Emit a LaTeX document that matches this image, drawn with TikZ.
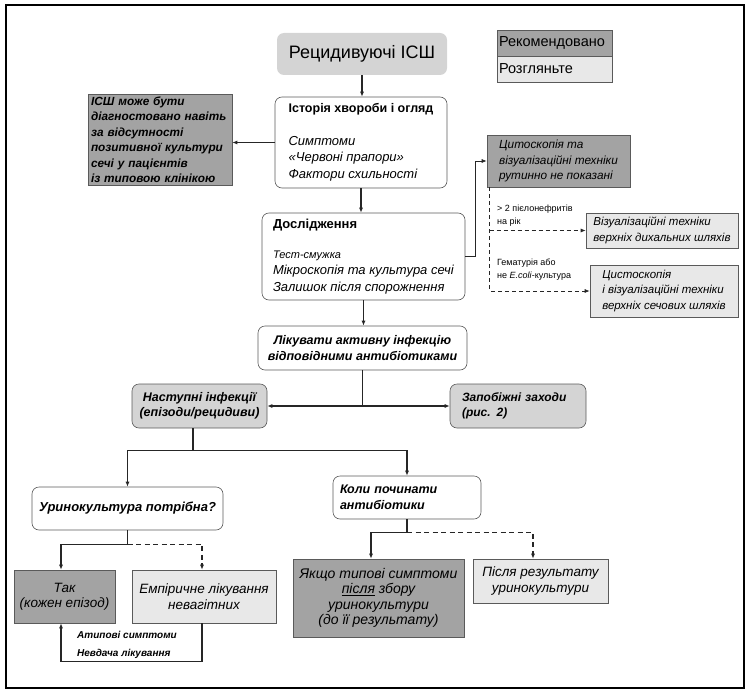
\documentclass[tikz,border=0pt]{standalone}
\usepackage{fontspec}
\setmainfont{Liberation Sans}
\usetikzlibrary{arrows.meta,calc}
\definecolor{dk}{HTML}{A3A3A3}
\definecolor{lt}{HTML}{E8E8E8}
\definecolor{md}{HTML}{D4D4D4}
\definecolor{bd}{HTML}{5A5A5A}
\begin{document}
\begin{tikzpicture}[x=1pt,y=-1pt,
  box/.style={draw=bd, line width=0.6pt, inner ysep=0pt},
  rbox/.style={box, rounded corners=7pt, fill=white},
  conn/.style={line width=1.3pt, draw=black!85},
  arr/.style={conn, -{Latex[length=5pt,width=4pt]}},
  darr/.style={arr, dashed, dash pattern=on 5pt off 3.5pt},
  thinarr/.style={line width=0.7pt, draw=black!85, -{Latex[length=5pt,width=4pt]}},
  thindarr/.style={thinarr, dash pattern=on 4pt off 3pt},
  fbi/.style={font=\fontsize{#1}{15.5}\selectfont\bfseries\itshape},
  fi/.style={font=\fontsize{#1}{15.5}\selectfont\itshape},
  lbl/.style={inner sep=0pt, align=left, anchor=north west}]
\useasboundingbox (0,0) rectangle (751,695);
\draw[line width=1.2pt] (6,5) rectangle (744,688);

% title & legend
\node[rbox, draw=none, fill=md, minimum width=170, minimum height=42,
  font=\fontsize{18}{20}\selectfont] (title) at (362,54) {Рецидивуючі ІСШ};
\node[box, fill=dk, text width=111, inner xsep=2, minimum height=26, align=left,
  font=\fontsize{14.5}{15}\selectfont] (rec) at (554.5,43) {Рекомендовано};
\node[box, fill=lt, text width=111, inner xsep=2, minimum height=26, align=left,
  font=\fontsize{14.5}{15}\selectfont] (cons) at (554.5,69) {Розгляньте};

% history
\node[rbox, minimum width=172, minimum height=91, align=left,
  font=\fontsize{13}{16.5}\selectfont] (hist) at (361,142.5)
  {{\fontsize{12.5}{16.5}\selectfont\bfseries Історія хвороби і огляд}\\[16pt]\textit{Симптоми}\\\textit{«Червоні прапори»}\\\textit{Фактори схильності}};
\node[box, fill=dk, text width=138, inner xsep=3, minimum height=91, align=left,
  font=\fontsize{11.8}{15.5}\selectfont\bfseries\itshape] (leftb) at (160,139.5)
  {ІСШ може бути\\діагностовано навіть\\за відсутності\\позитивної культури\\сечі у пацієнтів\\із типовою клінікою};

% investigations
\node[rbox, minimum width=203, minimum height=87, align=left,
  font=\fontsize{13}{16.5}\selectfont] (inv) at (363.5,256.5)
  {\textbf{Дослідження}\\[13pt]{\itshape\fontsize{11}{16.5}\selectfont Тест-смужка}\\\textit{Мікроскопія та культура сечі}\\\textit{Залишок після спорожнення}};

\node[box, fill=dk, minimum width=143, minimum height=52, align=left, fi=11.8] (cyto) at (558.5,161)
  {Цитоскопія та\\візуалізаційні техніки\\рутинно не показані};
\node[box, fill=lt, minimum width=152, minimum height=35, align=left, fi=11.5] (viz) at (662,230.5)
  {Візуалізаційні техніки\\верхніх дихальних шляхів};
\node[box, fill=lt, minimum width=148, minimum height=52, align=left, fi=11.5] (cysto) at (664,291)
  {Цистоскопія\\і візуалізаційні техніки\\верхніх сечових шляхів};

% treat
\node[rbox, minimum width=209, minimum height=44, align=center, fbi=12.5] (treat) at (362.5,348)
  {Лікувати активну інфекцію\\відповідними антибіотиками};
\node[rbox, fill=md, minimum width=135, minimum height=44, align=center, fbi=12.5] (next) at (199.5,406)
  {Наступні інфекції\\(епізоди/рецидиви)};
\node[rbox, fill=md, text width=112, inner xsep=12, minimum height=44, align=left, fbi=12] (prev) at (518,406)
  {Запобіжні заходи\\(рис. 2)};

% lower level
\node[rbox, minimum width=191, minimum height=43, align=center, fbi=13] (urine) at (127.5,508.5)
  {Уринокультура потрібна?};
\node[rbox, text width=134, inner xsep=7, minimum height=43, align=left, fbi=12.5] (when) at (407,497.5)
  {Коли починати\\антибіотики};

\node[box, fill=dk, minimum width=101, minimum height=53, align=center, fi=13.5] (tak) at (64.5,596.5)
  {Так\\(кожен епізод)};
\node[box, fill=lt, minimum width=144, minimum height=53, align=center, fi=13.5] (emp) at (204,596.5)
  {Емпіричне лікування\\невагітних};
\node[box, fill=dk, minimum width=171, minimum height=78, align=center, fi=14] (yak) at (378.5,598)
  {Якщо типові симптоми\\\underline{після} збору\\уринокультури\\(до її результату)};
\node[box, fill=lt, minimum width=135, minimum height=44, align=center, fi=13.5] (pis) at (540.5,581)
  {Після результату\\уринокультури};

% labels
\node[lbl, font=\fontsize{9}{13}\selectfont] (l1) at (497,205) {> 2 пієлонефритів\\на рік};
\node[lbl, font=\fontsize{9}{13}\selectfont] (l2) at (497,259) {Гематурія або\\не \textit{E.coli}-культура};
\node[lbl, font=\fontsize{10}{18}\selectfont\bfseries\itshape] (l3) at (77,631) {Атипові симптоми\\Невдача лікування};

% connectors
\draw[arr] (title.south) -- (title.south |- hist.north);
\draw[arr] (hist.west) -- (leftb.east |- hist.west);
\draw[arr] (hist.south) -- (hist.south |- inv.north);
\draw[arr] (inv.south) -- (inv.south |- treat.north);
\draw[thinarr] (inv.east) -- ++(10,0) |- (cyto.west);
\coordinate (d0) at ($(cyto.south west)+(3,0)$);
\draw[thindarr] (d0) |- (cysto.west);
\draw[thindarr] (d0 |- viz.west) -- (viz.west);

\coordinate (j1) at (treat.south |- next.east);
\draw[conn] (treat.south) -- (j1);
\draw[arr] (j1) -- (next.east);
\draw[arr] (j1) -- (prev.west);

\coordinate (n0) at ($(next.south)+(-6.5,0)$);
\coordinate (j2) at ($(n0)+(0,22)$);
\draw[conn] (n0) -- (j2);
\draw[arr] (j2) -| (urine.north);
\draw[arr] (j2) -| (when.north);

\coordinate (j3) at ($(urine.south)+(0,14)$);
\draw[conn] (urine.south) -- (j3);
\draw[arr] (j3) -| ($(tak.north)+(-3.5,0)$);
\draw[darr] (j3) -| ($(emp.north)+(-2,0)$);
\draw[arr] ($(emp.south)+(-2,0)$) -- ++(0,38) -| ($(tak.south)+(-3.5,0)$);

\coordinate (j4) at ($(when.south)+(0,13)$);
\draw[conn] (when.south) -- (j4);
\draw[arr] (j4) -| ($(yak.north)+(-7.5,0)$);
\draw[darr] (j4) -| ($(pis.north)+(-7.5,0)$);
\end{tikzpicture}
\end{document}
